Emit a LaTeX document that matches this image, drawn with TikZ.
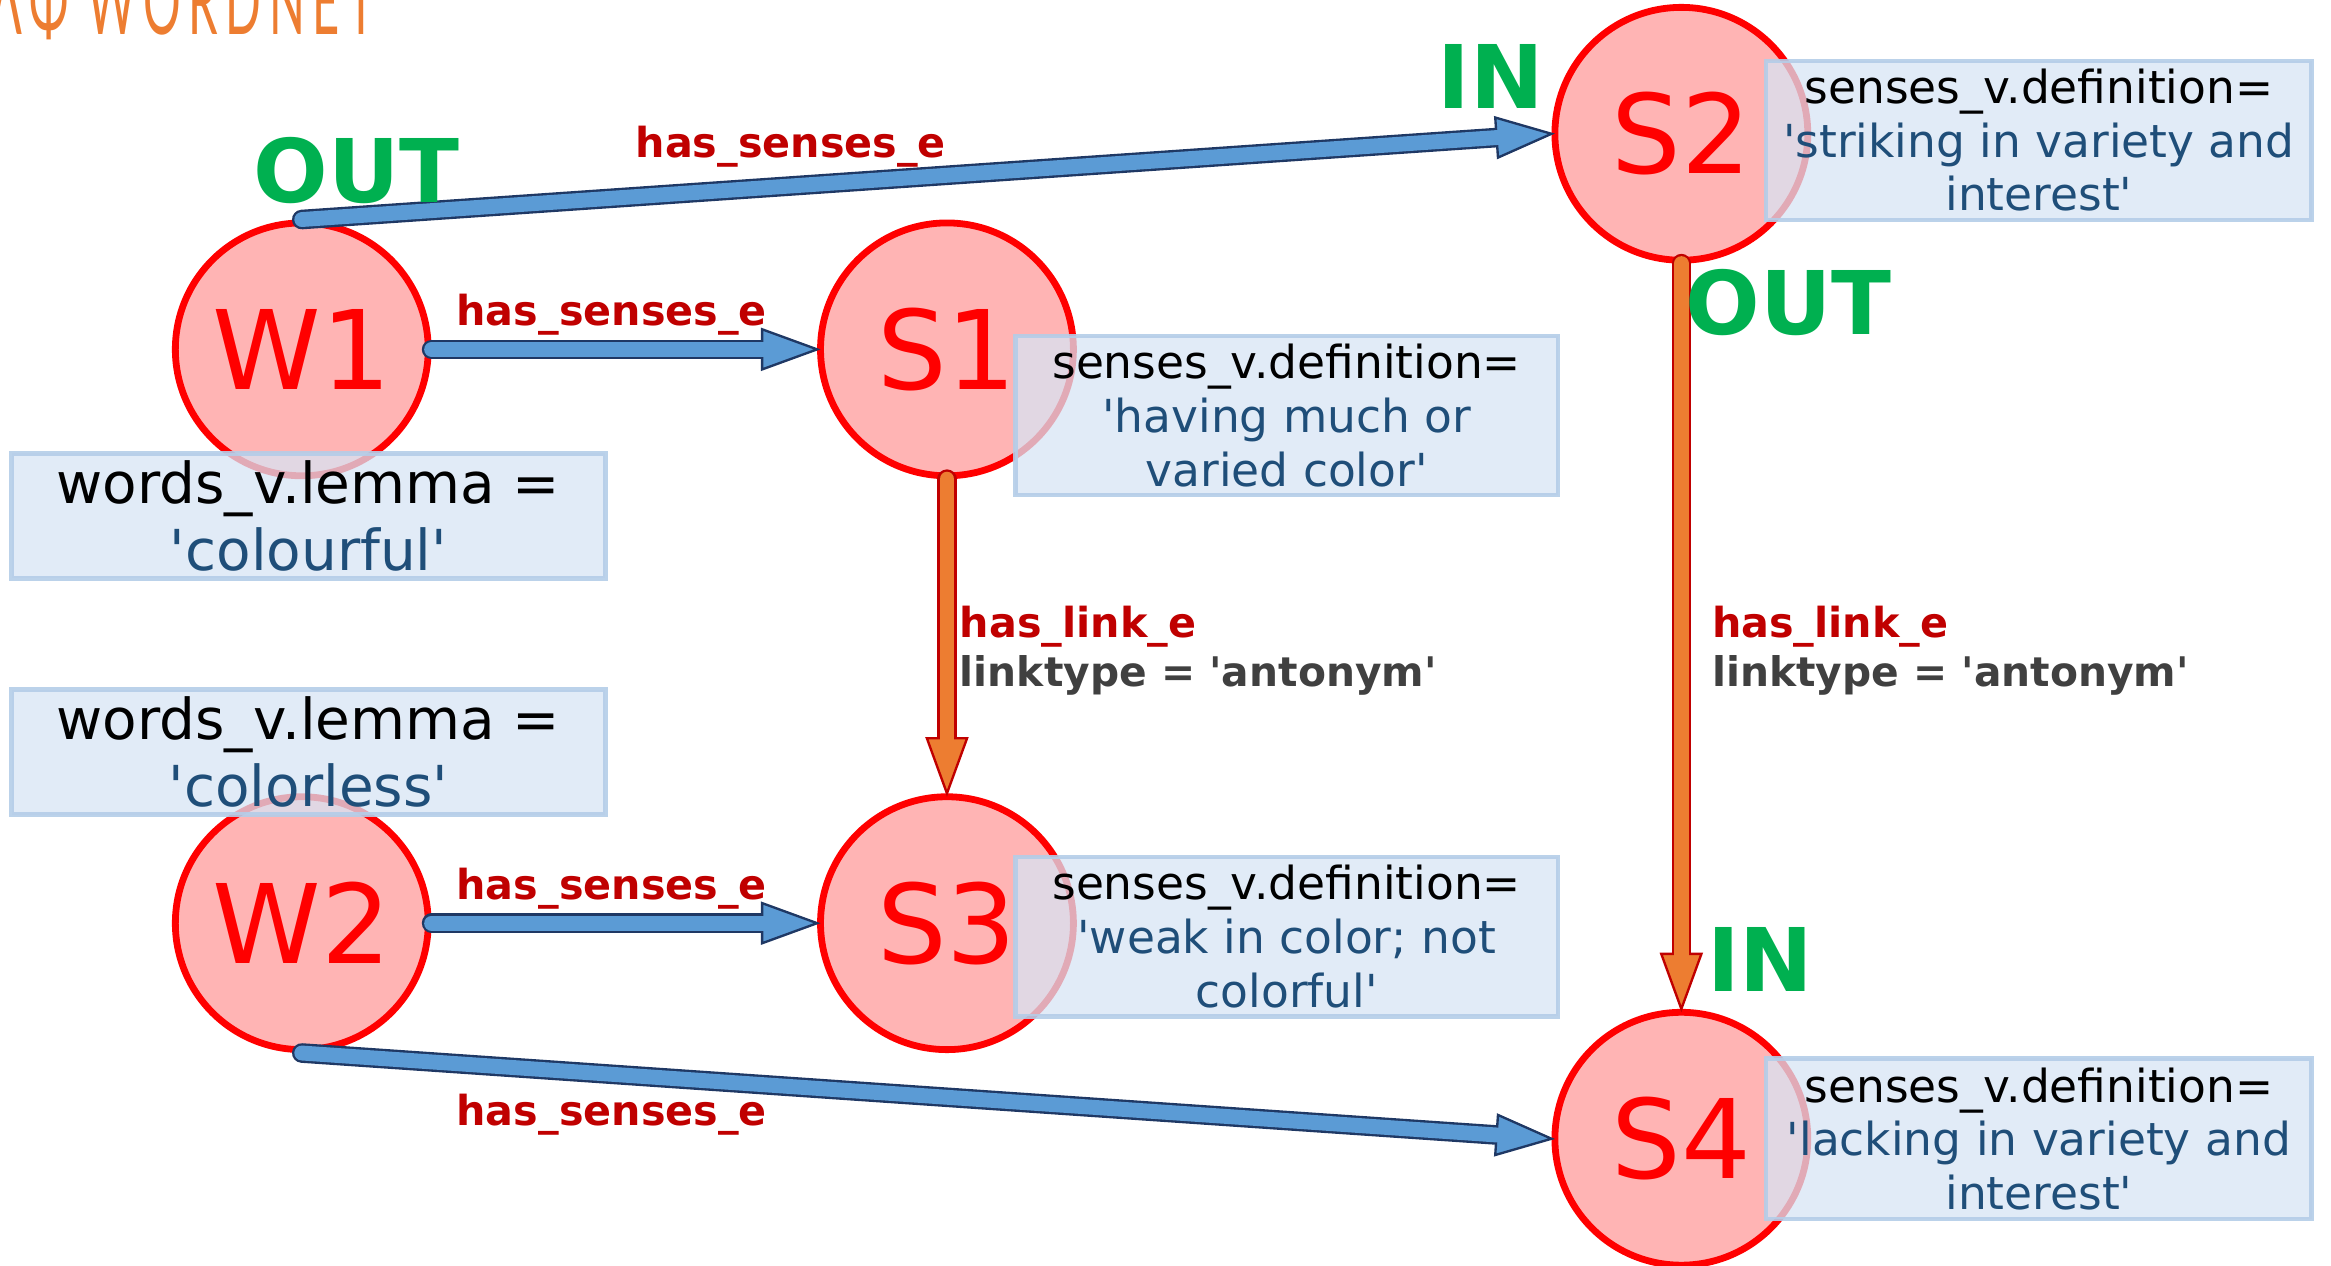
\documentclass[tikz,border=0pt]{standalone}
\usepackage{fontspec}
\setmainfont{DejaVu Sans}
% plain family: no TeX quote ligatures, so ' stays a straight apostrophe
\newfontfamily\plainfont{DejaVu Sans}
\newfontfamily\titlefont[FakeStretch=0.5, LetterSpace=8]{Lato}
\usetikzlibrary{calc}

\definecolor{nodepink}{RGB}{255,180,180}
\definecolor{nodered}{RGB}{255,0,0}
\definecolor{boxfill}{RGB}{215,228,244}
\definecolor{boxedge}{RGB}{180,205,232}
\definecolor{valblue}{RGB}{31,78,121}
\definecolor{edgered}{RGB}{192,0,0}
\definecolor{linkgray}{RGB}{64,64,64}
\definecolor{portgreen}{RGB}{0,176,80}
\definecolor{senseblue}{RGB}{91,155,213}
\definecolor{senseedge}{RGB}{31,56,100}
\definecolor{linkorange}{RGB}{237,125,49}
\definecolor{linkedge}{RGB}{192,0,0}
\definecolor{titleorange}{RGB}{237,125,49}

\tikzset{
  vertex/.style={circle, minimum size=1.7cm, inner sep=0pt, fill=nodepink,
    draw=nodered, line width=1.3pt, text=nodered,
    font=\plainfont\fontsize{21}{25}\selectfont},
  propbox/.style={rectangle, inner sep=0pt, align=center, fill=boxfill,
    fill opacity=0.75, draw=boxedge, draw opacity=0.9, line width=0.9pt,
    text opacity=1},
  defbox/.style={propbox, minimum width=3.65cm, minimum height=1.07cm,
    font=\plainfont\fontsize{8.7}{10.24}\selectfont},
  lemmabox/.style={propbox, minimum width=3.99cm, minimum height=0.84cm,
    font=\plainfont\fontsize{10.8}{12.8}\selectfont},
  edgelabel/.style={text=edgered, inner sep=0pt,
    font=\plainfont\bfseries\fontsize{7.9}{9.4}\selectfont},
  typelabel/.style={text=linkgray, inner sep=0pt,
    font=\plainfont\bfseries\fontsize{7.8}{9.4}\selectfont},
  portlabel/.style={text=portgreen, inner sep=0pt,
    font=\plainfont\bfseries\fontsize{16.8}{20}\selectfont},
}

% block arrow with outline: #1 fill, #2 outline, #3 tail, #4 tip
\newcommand\fatarrow[4]{%
  \coordinate (fab) at ($(#4)!0.37cm!(#3)$);
  \coordinate (fai) at ($(#4)!0.33cm!(#3)$);
  \draw[draw=#2, line width=3.75pt, line cap=round] (#3) -- (fai);
  \filldraw[fill=#1, draw=#2, line width=0.45pt, line join=miter]
    ($(fab)!0.135cm!90:(#4)$) -- (#4) -- ($(fab)!0.135cm!-90:(#4)$) -- cycle;
  \draw[draw=#1, line width=2.85pt, line cap=round] (#3) -- (fai);
}

\begin{document}
\begin{tikzpicture}[x=0.01cm, y=-0.01cm]
\useasboundingbox (0,0) rectangle (1568,851);
\clip (0,0) rectangle (1568,851);

% heading
\node[anchor=base east, inner sep=0pt, text=titleorange,
  font=\titlefont\fontsize{18}{20}\selectfont] (title) at (253,23.5) {ΛΦ WORDNET};

% words and senses
\node[vertex] (W1) at (203,235) {W1};
\node[vertex] (W2) at (203,621) {W2};
\node[vertex] (S1) at (637,235) {S1};
\node[vertex] (S3) at (637,621) {S3};
\node[vertex] (S2) at (1131,90) {S2};
\node[vertex] (S4) at (1131,766) {S4};

% has_senses_e edges
\fatarrow{senseblue}{senseedge}{W1.east}{S1.west}
\fatarrow{senseblue}{senseedge}{W1.north}{S2.west}
\fatarrow{senseblue}{senseedge}{W2.east}{S3.west}
\fatarrow{senseblue}{senseedge}{W2.south}{S4.west}
% has_link_e edges
\fatarrow{linkorange}{linkedge}{S1.south}{S3.north}
\fatarrow{linkorange}{linkedge}{S2.south}{S4.north}

% property boxes
\node[lemmabox] (lemma1) at (207.5,347)
  {words\_v.lemma =\\\color{valblue}'colourful'};
\node[lemmabox] (lemma2) at (207.5,506)
  {words\_v.lemma =\\\color{valblue}'colorless'};
\node[defbox] (def1) at (865.5,279.5)
  {senses\_v.definition=\\\color{valblue}'having much or\\\color{valblue}varied color'};
\node[defbox] (def3) at (865.5,630)
  {senses\_v.definition=\\\color{valblue}'weak in color; not\\\color{valblue}colorful'};
\node[defbox, minimum width=3.67cm] (def2) at (1371.5,94.5)
  {senses\_v.definition=\\\color{valblue}'striking in variety and\\\color{valblue}interest'};
\node[defbox, minimum width=3.67cm, minimum height=1.08cm] (def4) at (1371.5,766)
  {senses\_v.definition=\\\color{valblue}'lacking in variety and\\\color{valblue}interest'};

% edge labels
\node[edgelabel, anchor=base] (lab-w1s2) at (532,106) {has\_senses\_e};
\node[edgelabel, anchor=base] (lab-w1s1) at (411.5,219) {has\_senses\_e};
\node[edgelabel, anchor=base] (lab-w2s3) at (411.5,605) {has\_senses\_e};
\node[edgelabel, anchor=base] (lab-w2s4) at (411.5,757) {has\_senses\_e};
\node[edgelabel, anchor=base west] (lab-s1s3) at (645,429) {has\_link\_e};
\node[typelabel, anchor=base west] (typ-s1s3) at (645,462) {linktype = 'antonym'};
\node[edgelabel, anchor=base west] (lab-s2s4) at (1151,429) {has\_link\_e};
\node[typelabel, anchor=base west] (typ-s2s4) at (1151,462) {linktype = 'antonym'};

% traversal direction marks
\node[portlabel, anchor=base] (out-w1) at (240,136) {OUT};
\node[portlabel, anchor=base] (in-s2) at (1003,73) {IN};
\node[portlabel, anchor=base] (out-s2) at (1203,225) {OUT};
\node[portlabel, anchor=base] (in-s4) at (1184,667) {IN};
\end{tikzpicture}
\end{document}
